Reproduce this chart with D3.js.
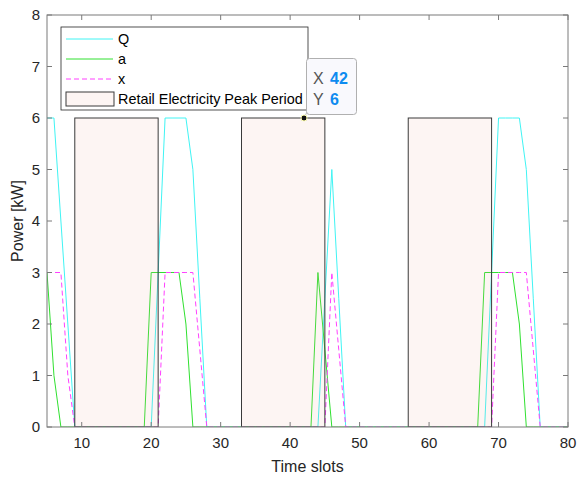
<!DOCTYPE html>
<html>
<head>
<meta charset="utf-8">
<script src="https://cdn.jsdelivr.net/npm/d3@7"></script>
<style>
  body { margin: 0; background: #fff; }
  text { font-family: "Liberation Sans", Arial, sans-serif; }
</style>
</head>
<body>
<svg id="chart" width="578" height="478"></svg>
<script>
// Time slots shown on the x axis
const slots = [5,6,7,8,9,10,11,12,13,14,15,16,17,18,19,20,21,22,23,24,25,26,27,28,29,30,
  31,32,33,34,35,36,37,38,39,40,41,42,43,44,45,46,47,48,49,50,51,52,53,54,55,56,57,58,59,60,
  61,62,63,64,65,66,67,68,69,70,71,72,73,74,75,76,77,78,79,80];

// Series values, one per slot
const qVals = [6,6,4,2, 0,0,0,0,0,0,0,0,0,0,0,0, 3,6,6,6,6,5,2.5,
  0,0,0,0,0,0,0,0,0,0,0,0,0,0,0,0,0, 2.5,5,2.5,
  0,0,0,0,0,0,0,0,0,0,0,0,0,0,0,0,0,0,0,0,0, 3,6,6,6,6,5,2.5, 0,0,0,0,0];
const aVals = [3,1, 0,0,0,0,0,0,0,0,0,0,0,0,0, 3,3,3,3,3,2,
  0,0,0,0,0,0,0,0,0,0,0,0,0,0,0,0,0,0, 3,1.5,
  0,0,0,0,0,0,0,0,0,0,0,0,0,0,0,0,0,0,0,0,0,0, 3,3,3,3,3,2, 0,0,0,0,0,0,0];
const xVals = [3,3,3,1, 0,0,0,0,0,0,0,0,0,0,0,0,0, 3,3,3,3,3,1.5,
  0,0,0,0,0,0,0,0,0,0,0,0,0,0,0,0,0,0, 3,1.5,
  0,0,0,0,0,0,0,0,0,0,0,0,0,0,0,0,0,0,0,0,0,0, 3,3,3,3,3,1.5, 0,0,0,0,0];

// Retail electricity peak periods
const peakStart = [9, 33, 57];
const peakEnd = [21, 45, 69];
const peakLevel = 6;

const xTicks = [10,20,30,40,50,60,70,80];
const yTicks = [0,1,2,3,4,5,6,7,8];

// Data tip
const tipX = 42, tipY = 6;

const svg = d3.select('#chart');
const m = { left: 47, right: 568, top: 15, bottom: 427 };

const x = d3.scaleLinear().domain([5, 80]).range([m.left, m.right]);
const y = d3.scaleLinear().domain([0, 8]).range([m.bottom, m.top]);

svg.append('defs').append('clipPath').attr('id', 'clip')
  .append('rect').attr('x', m.left).attr('y', m.top)
  .attr('width', m.right - m.left).attr('height', m.bottom - m.top);

const plot = svg.append('g').attr('clip-path', 'url(#clip)');

const series = [
  { name: 'Q', vals: qVals, color: '#40f4f4', dash: null },
  { name: 'a', vals: aVals, color: '#30e030', dash: null },
  { name: 'x', vals: xVals, color: '#ff40ff', dash: '5,3' }
];

const line = d3.line().x(d => x(d[0])).y(d => y(d[1]));
series.forEach(s => {
  plot.append('path')
    .datum(slots.map((t, i) => [t, s.vals[i]]))
    .attr('d', line)
    .attr('fill', 'none')
    .attr('stroke', s.color)
    .attr('stroke-width', 1)
    .attr('stroke-dasharray', s.dash);
});

// Peak period patches (semi transparent, drawn over the lines)
const peakFill = 'rgb(236,170,160)';
plot.selectAll('.peak')
  .data(peakStart.map((s, i) => [s, peakEnd[i]]))
  .enter().append('rect')
  .attr('x', d => x(d[0]))
  .attr('y', y(peakLevel))
  .attr('width', d => x(d[1]) - x(d[0]))
  .attr('height', y(0) - y(peakLevel))
  .attr('fill', peakFill)
  .attr('fill-opacity', 0.12)
  .attr('stroke', '#3a3a3a')
  .attr('stroke-width', 1);

// Axes box and ticks
const axisColor = '#7a7a7a';
const tl = 5;
const axes = svg.append('g');
axes.append('rect')
  .attr('x', m.left).attr('y', m.top)
  .attr('width', m.right - m.left).attr('height', m.bottom - m.top)
  .attr('fill', 'none').attr('stroke', axisColor).attr('stroke-width', 1);

xTicks.forEach(t => {
  axes.append('line').attr('x1', x(t)).attr('x2', x(t))
    .attr('y1', m.bottom).attr('y2', m.bottom - tl).attr('stroke', axisColor);
  axes.append('line').attr('x1', x(t)).attr('x2', x(t))
    .attr('y1', m.top).attr('y2', m.top + tl).attr('stroke', axisColor);
  axes.append('text').attr('x', x(t)).attr('y', m.bottom + 21)
    .attr('text-anchor', 'middle').attr('font-size', 15).attr('fill', '#262626')
    .text(t);
});
yTicks.forEach(t => {
  axes.append('line').attr('x1', m.left).attr('x2', m.left + tl)
    .attr('y1', y(t)).attr('y2', y(t)).attr('stroke', axisColor);
  axes.append('line').attr('x1', m.right).attr('x2', m.right - tl)
    .attr('y1', y(t)).attr('y2', y(t)).attr('stroke', axisColor);
  axes.append('text').attr('x', m.left - 7).attr('y', y(t) + 5)
    .attr('text-anchor', 'end').attr('font-size', 15).attr('fill', '#262626')
    .text(t);
});

svg.append('text').attr('x', (m.left + m.right) / 2).attr('y', 472)
  .attr('text-anchor', 'middle').attr('font-size', 16).attr('fill', '#262626')
  .text('Time slots');
svg.append('text')
  .attr('transform', `translate(23,${(m.top + m.bottom) / 2}) rotate(-90)`)
  .attr('text-anchor', 'middle').attr('font-size', 16).attr('fill', '#262626')
  .text('Power [kW]');

// Legend
const lg = svg.append('g');
lg.append('rect').attr('x', 61).attr('y', 27).attr('width', 247).attr('height', 83)
  .attr('fill', '#fff').attr('stroke', '#262626').attr('stroke-width', 0.8);
const rows = [39, 59, 79];
series.forEach((s, i) => {
  lg.append('line').attr('x1', 66).attr('x2', 113).attr('y1', rows[i]).attr('y2', rows[i])
    .attr('stroke', s.color).attr('stroke-width', 1).attr('stroke-dasharray', s.dash);
  lg.append('text').attr('x', 118).attr('y', rows[i] + 5).attr('font-size', 14.4)
    .attr('fill', '#000').text(s.name);
});
lg.append('rect').attr('x', 66).attr('y', 92).attr('width', 48).attr('height', 14)
  .attr('fill', peakFill).attr('fill-opacity', 0.12)
  .attr('stroke', '#3a3a3a').attr('stroke-width', 1);
lg.append('text').attr('x', 118).attr('y', 104).attr('font-size', 14.4)
  .attr('fill', '#000').text('Retail Electricity Peak Period');

// Data tip
const tip = svg.append('g');
tip.append('line').attr('x1', x(tipX)).attr('x2', 307).attr('y1', y(tipY)).attr('y2', 112)
  .attr('stroke', '#888').attr('stroke-width', 0.5);
tip.append('rect').attr('x', 306.5).attr('y', 58.5).attr('width', 50).attr('height', 56)
  .attr('rx', 3).attr('fill', '#f9f9fd').attr('stroke', '#b0b0b0').attr('stroke-width', 1);
tip.append('text').attr('x', 313).attr('y', 84).attr('font-size', 16).attr('fill', '#555')
  .text('X');
tip.append('text').attr('x', 330).attr('y', 84).attr('font-size', 16).attr('fill', '#0d8bf0')
  .attr('font-weight', 'bold').text(tipX);
tip.append('text').attr('x', 313).attr('y', 105).attr('font-size', 16).attr('fill', '#555')
  .text('Y');
tip.append('text').attr('x', 330).attr('y', 105).attr('font-size', 16).attr('fill', '#0d8bf0')
  .attr('font-weight', 'bold').text(tipY);
tip.append('circle').attr('cx', x(tipX)).attr('cy', y(tipY)).attr('r', 3)
  .attr('fill', '#111').attr('stroke', '#ffffb0').attr('stroke-width', 1);
</script>
</body>
</html>
